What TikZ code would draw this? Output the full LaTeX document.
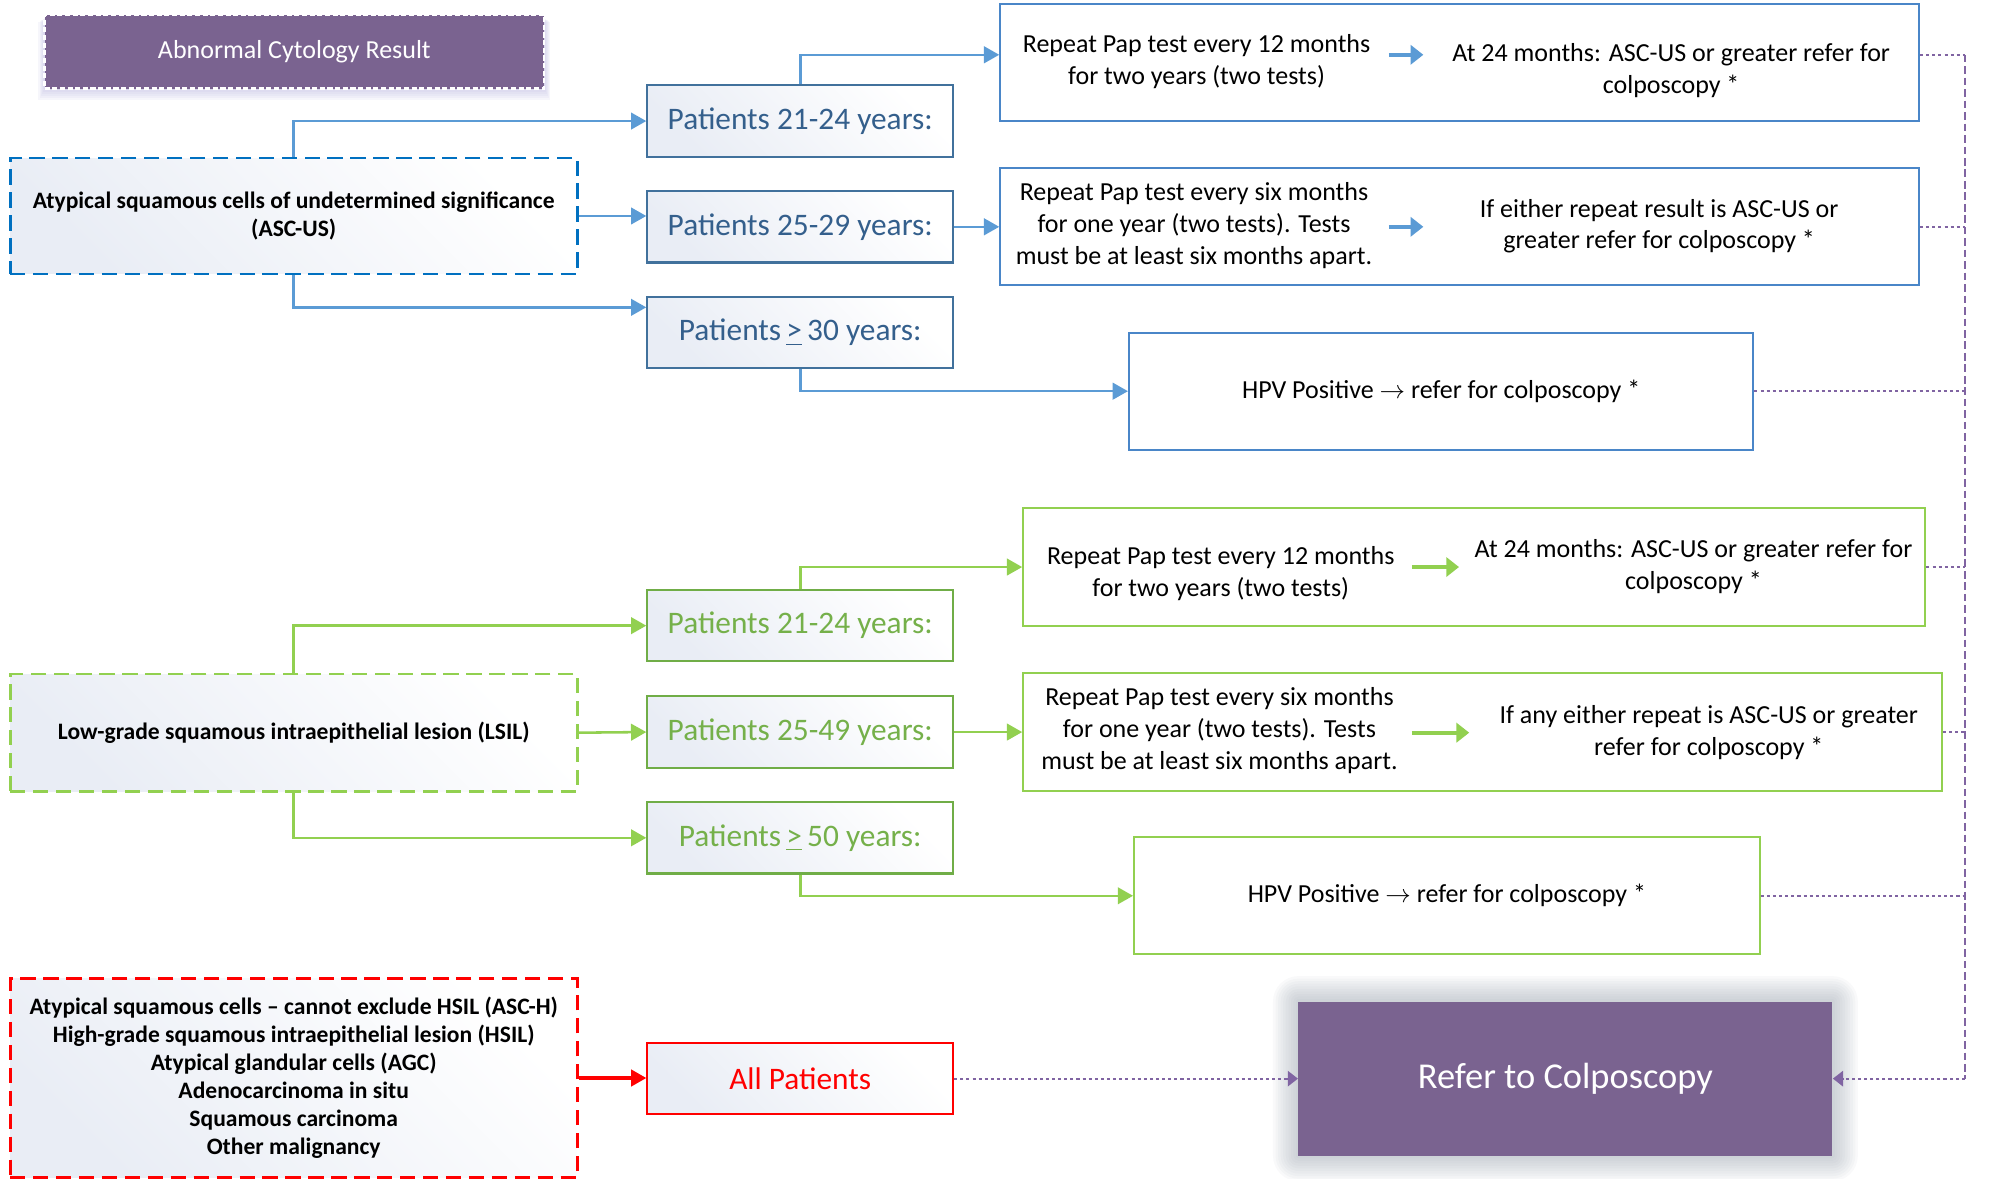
\documentclass[tikz,border=0pt]{standalone}
\usepackage{fontspec}
\setmainfont{Carlito}
\usetikzlibrary{arrows.meta,calc}
\definecolor{purp}{HTML}{7A6390}
\definecolor{purpline}{HTML}{8064A2}
\definecolor{bline}{HTML}{5B9BD5}
\definecolor{bbord}{HTML}{41719C}
\definecolor{btext}{HTML}{345F8C}
\definecolor{rbord}{HTML}{4A86C8}
\definecolor{bdash}{HTML}{0070C0}
\definecolor{gline}{HTML}{92D050}
\definecolor{gdark}{HTML}{70AD47}
\definecolor{gtext}{HTML}{75B04A}
\definecolor{redc}{HTML}{FF0000}
\definecolor{gstart}{HTML}{E9EDF5}
\definecolor{glowc}{HTML}{8E98A5}
\definecolor{shadc}{HTML}{B9B6E0}
\begin{document}
\begin{tikzpicture}[x=0.5pt,y=-0.5pt,
  lbl/.style={font=\fontsize{10.2}{12.5}\selectfont, align=center, inner sep=0pt},
  box/.style={draw, line width=0.8pt, align=center, inner sep=3pt},
  grad/.style={left color=gstart, right color=white, shading angle=135},
  pbox/.style={box, grad, minimum width=120pt, minimum height=28pt, font=\fontsize{12.3}{14}\selectfont},
  rbox/.style={box, fill=white, minimum height=46pt, font=\fontsize{10.2}{12.5}\selectfont},
  catbox/.style={box, grad, dash pattern=on 6pt off 3pt, line width=1.1pt, minimum width=222.5pt, font=\bfseries\fontsize{9.25}{11}\selectfont},
  bconn/.style={draw=bline, line width=1pt, -{Triangle[length=6pt,width=6.5pt]}},
  gconn/.style={draw=gline, line width=1pt, -{Triangle[length=6pt,width=6.5pt]}},
  rconn/.style={draw=redc, line width=1.2pt, -{Triangle[length=6pt,width=6.5pt]}},
  inarr/.style={line width=1.6pt, -{Triangle[length=5pt,width=7.5pt]}},
  dotl/.style={draw=purpline, line width=0.9pt, dash pattern=on 1.2pt off 1.2pt},
  rail/.style={draw=purpline, line width=0.9pt, dash pattern=on 3pt off 1.5pt},
  ptip/.style={-{Triangle[length=4pt,width=6pt]}}
]
\useasboundingbox (0,0) rectangle (1568,925);

% shadow of title box
\foreach \i in {1,...,6}
  \fill[shadc, opacity=0.12] (35-\i*0.8,14+\i*0.5) rectangle (427+\i*0.8,69+\i*1.6);
% glow of final box
\foreach \i in {1,...,10}
  \fill[glowc, opacity=0.055, rounded corners=\i pt] (1019-\i*2,786-\i*2) rectangle (1438+\i*2,907+\i*2);

% title
\node[fill=purp, draw=white, dash pattern=on 2pt off 1pt, line width=1pt,
      minimum width=196pt, minimum height=29pt, text=white,
      font=\fontsize{10.2}{12}\selectfont] (abn) at (231,40.5) {Abnormal Cytology Result};

% ---------- ASC-US branch ----------
\node[catbox, draw=bdash, minimum height=45.5pt] (asc) at (230.5,169.5)
  {Atypical squamous cells of undetermined significance\\(ASC-US)};
\node[pbox, draw=bbord, text=btext] (pb1) at (628,95) {Patients 21-24 years:};
\node[pbox, draw=bbord, text=btext] (pb2) at (628,178) {Patients 25-29 years:};
\node[pbox, draw=bbord, text=btext] (pb3) at (628,261) {Patients\,\underline{>}\,30 years:};

\node[rbox, draw=rbord, minimum width=360.5pt] (rb1) at (1145.5,49) {};
\node[lbl] (rb1l) at (939,48.5) {Repeat Pap test every 12 months\\for two years (two tests)};
\node[lbl] (rb1r) at (1311.5,55.5) {At 24 months: ASC-US or greater refer for\\colposcopy *};
\coordinate (a1s) at (1090,43); \coordinate (a1e) at (1117,43);
\draw[inarr, bline] (a1s) -- (a1e);

\node[rbox, draw=rbord, minimum width=360.5pt] (rb2) at (1145.5,178) {};
\node[lbl] (rb2l) at (937,177) {Repeat Pap test every six months\\for one year (two tests). Tests\\must be at least six months apart.};
\node[lbl] (rb2r) at (1302,177.5) {If either repeat result is ASC-US or\\greater refer for colposcopy *};
\coordinate (a2s) at (1090,178); \coordinate (a2e) at (1117,178);
\draw[inarr, bline] (a2s) -- (a2e);

\node[rbox, draw=rbord, minimum width=245pt] (hb1) at (1131,307) {HPV Positive $\rightarrow$ refer for colposcopy *};

\draw[bconn] (asc.north) |- (pb1.west);
\draw[bconn] (asc.east) -- (asc.east -| pb2.west);
\draw[bconn] (asc.south) |- ([yshift=-4.5pt]pb3.north west);
\draw[bconn] (pb1.north) |- ([yshift=3pt]rb1.west);
\draw[bconn] (pb2.east) -- (rb2.west);
\draw[bconn] (pb3.south) |- (hb1.west);

% ---------- LSIL branch ----------
\node[catbox, draw=gline, minimum height=46pt] (lsil) at (230.5,575)
  {Low-grade squamous intraepithelial lesion (LSIL)};
\node[pbox, draw=gdark, text=gtext] (pg1) at (628,491) {Patients 21-24 years:};
\node[pbox, draw=gdark, text=gtext] (pg2) at (628,574.5) {Patients 25-49 years:};
\node[pbox, draw=gdark, text=gtext] (pg3) at (628,657.5) {Patients\,\underline{>}\,50 years:};

\node[rbox, draw=gline, minimum width=354pt] (rg1) at (1157,445) {};
\node[lbl] (rg1l) at (958,450) {Repeat Pap test every 12 months\\for two years (two tests)};
\node[lbl] (rg1r) at (1329,444.5) {At 24 months: ASC-US or greater refer for\\colposcopy *};
\coordinate (a3s) at (1108,445); \coordinate (a3e) at (1145,445);
\draw[inarr, gline] (a3s) -- (a3e);

\node[rbox, draw=gline, minimum width=360.5pt, minimum height=46.5pt] (rg2) at (1163.5,574.5) {};
\node[lbl] (rg2l) at (957,573.5) {Repeat Pap test every six months\\for one year (two tests). Tests\\must be at least six months apart.};
\node[lbl] (rg2r) at (1341,575) {If any either repeat is ASC-US or greater\\refer for colposcopy *};
\coordinate (a4s) at (1108,575); \coordinate (a4e) at (1153,575);
\draw[inarr, gline] (a4s) -- (a4e);

\node[rbox, draw=gline, minimum width=245.5pt] (hb2) at (1135.5,703) {HPV Positive $\rightarrow$ refer for colposcopy *};

\draw[gconn] (lsil.north) |- (pg1.west);
\draw[gconn] (lsil.east) -- (pg2.west);
\draw[gconn] (lsil.south) |- (pg3.west);
\draw[gconn] (pg1.north) |- (rg1.west);
\draw[gconn] (pg2.east) -- (rg2.west);
\draw[gconn] (pg3.south) |- (hb2.west);

% ---------- high grade branch ----------
\node[catbox, draw=redc, minimum height=78pt] (red) at (230.5,846)
  {Atypical squamous cells – cannot exclude HSIL (ASC-H)\\High-grade squamous intraepithelial lesion (HSIL)\\Atypical glandular cells (AGC)\\Adenocarcinoma in situ\\Squamous carcinoma\\Other malignancy};
\node[pbox, draw=redc, text=redc] (allp) at (628,846.5) {All Patients};
\draw[rconn] (red.east) -- (red.east -| allp.west);

% ---------- final ----------
\node[fill=purp, minimum width=209.5pt, minimum height=60.5pt, text=white,
      font=\fontsize{14.3}{17}\selectfont] (refer) at (1228.5,846.5) {Refer to Colposcopy};

\coordinate (railtop) at (1542,43);
\coordinate (railbot) at (1542,846.5);
\draw[dotl] ([yshift=3pt]rb1.east) -- (railtop);
\draw[dotl] (rb2.east) -- (rb2.east -| railtop);
\draw[dotl] (hb1.east) -- (hb1.east -| railtop);
\draw[dotl] (rg1.east) -- (rg1.east -| railtop);
\draw[dotl] (rg2.east) -- (rg2.east -| railtop);
\draw[dotl] (hb2.east) -- (hb2.east -| railtop);
\draw[rail] (railtop) -- (railbot);
\draw[dotl, ptip] (railbot) -- (refer.east);
\draw[dotl, ptip] (allp.east) -- (refer.west);
\end{tikzpicture}
\end{document}
